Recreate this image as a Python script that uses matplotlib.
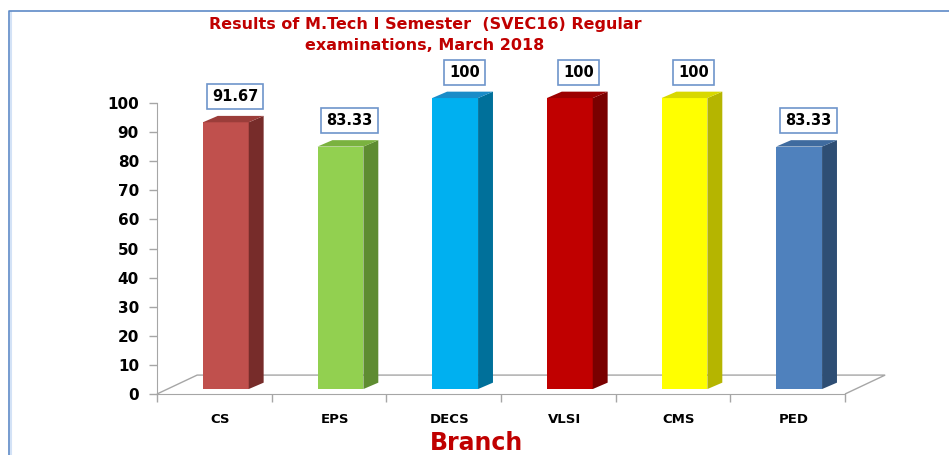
import matplotlib
matplotlib.use("Agg")
import matplotlib.pyplot as plt
from matplotlib.patches import Polygon, Rectangle
from matplotlib.lines import Line2D

BRANCHES = ["CS", "EPS", "DECS", "VLSI", "CMS", "PED"]
PASS_PCT = [91.67, 83.33, 100, 100, 100, 83.33]
LABELS = ["91.67", "83.33", "100", "100", "100", "83.33"]
FRONT = ["#C0504D", "#92D050", "#00B0F0", "#C00000", "#FFFF00", "#4F81BD"]
SIDE = ["#772C2A", "#5E8C31", "#00709A", "#7A0000", "#B5B500", "#2E4E74"]
TOP = ["#9B3D3A", "#7AB23F", "#1A8CC8", "#9C0000", "#D8D800", "#3F6B9F"]
Y_TICKS = list(range(0, 101, 10))

TITLE = "Results of M.Tech I Semester  (SVEC16) Regular\nexaminations, March 2018"
RED = "#C00000"
GRAY = "#A6A6A6"

# 3d look, in data units
BASE = 1.7
BAR_W = 0.40
DX, DY = 0.13, 2.2
FLOOR_DX, FLOOR_DY = 0.35, 6.5


def draw_floor(ax):
    pts = [(-0.5, 0), (-0.5 + FLOOR_DX, FLOOR_DY),
           (5.5 + FLOOR_DX, FLOOR_DY), (5.5, 0)]
    ax.add_patch(Polygon(pts, closed=False, fill=False, edgecolor=GRAY,
                         lw=1.0, clip_on=False, zorder=1))


def draw_bars(ax):
    for i, v in enumerate(PASS_PCT):
        x0 = i - 0.1
        x1 = x0 + BAR_W
        top = BASE + v
        ax.add_patch(Rectangle((x0, BASE), BAR_W, v, facecolor=FRONT[i],
                               edgecolor="none", clip_on=False, zorder=3))
        side = [(x1, BASE), (x1 + DX, BASE + DY), (x1 + DX, top + DY), (x1, top)]
        ax.add_patch(Polygon(side, facecolor=SIDE[i], edgecolor="none",
                             clip_on=False, zorder=3))
        lid = [(x0, top), (x0 + DX, top + DY), (x1 + DX, top + DY), (x1, top)]
        ax.add_patch(Polygon(lid, facecolor=TOP[i], edgecolor="none",
                             clip_on=False, zorder=3))
        ax.annotate(LABELS[i], xy=(i + 0.18, top + DY), xytext=(0, 14),
                    textcoords="offset points", ha="center", va="center",
                    fontsize=10.5, fontweight="bold", color="black",
                    bbox=dict(boxstyle="square,pad=0.35", fc="white",
                              ec="#6E95CB", lw=1.2),
                    annotation_clip=False, zorder=5)


def main():
    fig = plt.figure(figsize=(9.49, 4.55), dpi=100)
    ax = fig.add_axes([157 / 949, 61 / 455, 688 / 949, 291 / 455])
    ax.set_xlim(-0.5, 5.5)
    ax.set_ylim(0, 100)
    for s in ["top", "right"]:
        ax.spines[s].set_visible(False)
    ax.spines["left"].set_color(GRAY)
    ax.spines["bottom"].set_color(GRAY)

    ax.set_yticks(Y_TICKS)
    ax.set_yticklabels([str(t) for t in Y_TICKS], fontsize=11,
                       fontweight="bold")
    ax.tick_params(axis="y", length=6, width=1, color=GRAY, pad=7)

    ax.set_xticks([i - 0.5 for i in range(len(BRANCHES) + 1)])
    ax.set_xticklabels([])
    ax.tick_params(axis="x", which="major", length=6, width=1, color=GRAY)
    ax.set_xticks([i + 0.05 for i in range(len(BRANCHES))], minor=True)
    ax.set_xticklabels(BRANCHES, minor=True, fontsize=9.5, fontweight="bold")
    ax.tick_params(axis="x", which="minor", length=0, pad=14)

    draw_floor(ax)
    draw_bars(ax)

    fig.text(476 / 949, 1 - 443 / 455, "Branch", color=RED, fontsize=17,
             fontweight="bold", ha="center", va="center")
    fig.text(425 / 949, 1 - 35 / 455, TITLE, color=RED, fontsize=11.5,
             fontweight="bold", ha="center", va="center", linespacing=1.45)

    # outer frame (left and top only)
    fig.add_artist(Line2D([10.5 / 949, 10.5 / 949], [0, 1 - 12 / 455],
                          transform=fig.transFigure, color="#D3E2F6", lw=1.5))
    fig.add_artist(Line2D([9 / 949, 9 / 949, 1], [0, 1 - 11 / 455, 1 - 11 / 455],
                          transform=fig.transFigure, color="#5E8AC7", lw=1.2,
                          solid_capstyle="butt"))

    fig.savefig("out.png", dpi=100)


main()
